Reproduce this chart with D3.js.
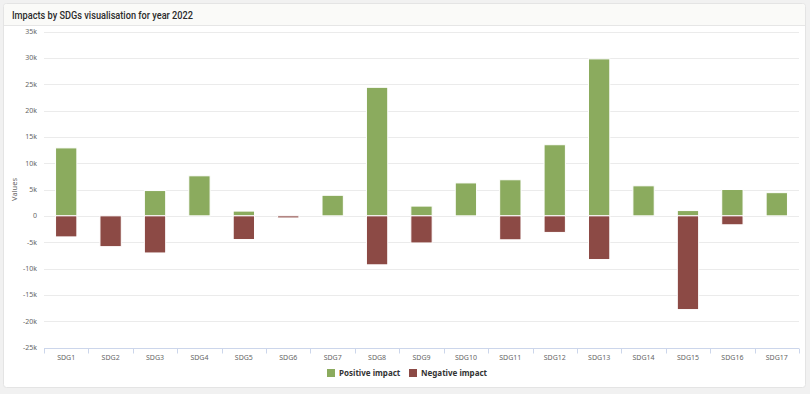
<!DOCTYPE html>
<html>
<head>
<meta charset="utf-8">
<script src="https://cdn.jsdelivr.net/npm/d3@7"></script>
<style>
    html, body { margin: 0; padding: 0; background: #f1f1f1; }
    svg { display: block; font-family: "Noto Sans", "DejaVu Sans", sans-serif; }
</style>
</head>
<body>
<div id="chart"></div>
<script>
const categories = ['SDG1', 'SDG2', 'SDG3', 'SDG4', 'SDG5', 'SDG6', 'SDG7', 'SDG8', 'SDG9',
    'SDG10', 'SDG11', 'SDG12', 'SDG13', 'SDG14', 'SDG15', 'SDG16', 'SDG17'];
const positiveImpact = [12900, 0, 4800, 7600, 900, 0, 3900, 24400, 1850, 6250, 6850, 13500, 29800, 5700, 1000, 5000, 4400];
const negativeImpact = [-4000, -5850, -7050, 0, -4500, -400, 0, -9300, -5150, 0, -4550, -3150, -8300, 0, -17800, -1700, 0];
const yTicks = [-25000, -20000, -15000, -10000, -5000, 0, 5000, 10000, 15000, 20000, 25000, 30000, 35000];
const seriesNames = ['Positive impact', 'Negative impact'];
const seriesColors = ['#8bab5e', '#8c4a45'];

const width = 810,
    height = 394,
    margin = { top: 31.5, right: 11, bottom: 46.5, left: 44 };

const svg = d3.select('#chart')
    .append('svg')
    .attr('width', width)
    .attr('height', height);

// card + header band
svg.append('rect')
    .attr('x', 3.5).attr('y', 3.5)
    .attr('width', 802).attr('height', 384)
    .attr('rx', 3)
    .attr('fill', '#fff')
    .attr('stroke', '#e4e4e4');
svg.append('path')
    .attr('d', 'M4,25.5 V7 Q4,4 7,4 H802 Q805,4 805,7 V25.5 Z')
    .attr('fill', '#fafaf8');
svg.append('line')
    .attr('x1', 4).attr('x2', 805)
    .attr('y1', 25.5).attr('y2', 25.5)
    .attr('stroke', '#e6e6e6');
svg.append('text')
    .attr('x', 12).attr('y', 19)
    .attr('font-size', 11)
    .attr('font-weight', 500)
    .attr('fill', '#2b2b2b')
    .attr('font-family', 'Roboto, sans-serif')
    .attr('textLength', 181)
    .attr('lengthAdjust', 'spacingAndGlyphs')
    .text('Impacts by SDGs visualisation for year 2022');

const x = d3.scaleBand()
    .domain(categories)
    .range([margin.left, width - margin.right])
    .paddingInner(0.52)
    .paddingOuter(0.26);

const y = d3.scaleLinear()
    .domain([-25000, 35000])
    .range([height - margin.bottom, margin.top]);

// grid
svg.append('g')
    .selectAll('line')
    .data(yTicks.filter(t => t !== -25000))
    .join('line')
    .attr('x1', margin.left).attr('x2', width - margin.right)
    .attr('y1', d => Math.round(y(d)) + 0.5).attr('y2', d => Math.round(y(d)) + 0.5)
    .attr('stroke', '#ebebeb');

// y labels
const fmt = d => d === 0 ? '0' : (d / 1000) + 'k';
svg.append('g')
    .selectAll('text')
    .data(yTicks)
    .join('text')
    .attr('x', 37)
    .attr('y', d => y(d) + 2.5)
    .attr('text-anchor', 'end')
    .attr('font-size', 7)
    .attr('fill', '#666')
    .text(fmt);

svg.append('text')
    .attr('transform', `translate(17,${y(5000)}) rotate(-90)`)
    .attr('text-anchor', 'middle')
    .attr('font-size', 7.5)
    .attr('fill', '#666')
    .text('Values');

// x axis
const xAxisY = Math.round(y(-25000)) + 0.5;
svg.append('line')
    .attr('x1', margin.left).attr('x2', width - margin.right)
    .attr('y1', xAxisY).attr('y2', xAxisY)
    .attr('stroke', '#ccd6eb');
const edges = d3.range(categories.length + 1).map(i => margin.left + i * (width - margin.left - margin.right) / categories.length);
svg.append('g')
    .selectAll('line')
    .data(edges)
    .join('line')
    .attr('x1', d => Math.round(d) + 0.5).attr('x2', d => Math.round(d) + 0.5)
    .attr('y1', xAxisY).attr('y2', xAxisY + 5)
    .attr('stroke', '#ccd6eb');
svg.append('g')
    .selectAll('text')
    .data(categories)
    .join('text')
    .attr('x', d => x(d) + x.bandwidth() / 2)
    .attr('y', xAxisY + 11)
    .attr('text-anchor', 'middle')
    .attr('font-size', 7)
    .attr('fill', '#666')
    .text(d => d);

// bars
const series = [positiveImpact, negativeImpact];
series.forEach((vals, si) => {
    svg.append('g')
        .selectAll('rect')
        .data(vals.map((v, i) => ({ cat: categories[i], v })).filter(d => d.v !== 0))
        .join('rect')
        .attr('x', d => x(d.cat))
        .attr('width', x.bandwidth())
        .attr('y', d => y(Math.max(0, d.v)))
        .attr('height', d => Math.abs(y(d.v) - y(0)))
        .attr('fill', seriesColors[si])
        .attr('stroke', '#fff')
        .attr('stroke-width', 1);
});

// legend
const legend = svg.append('g').attr('transform', 'translate(327,373)');
const items = [{ n: seriesNames[0], c: seriesColors[0], x: 0 }, { n: seriesNames[1], c: seriesColors[1], x: 82 }];
items.forEach(it => {
    legend.append('rect')
        .attr('x', it.x).attr('y', -4)
        .attr('width', 8).attr('height', 8)
        .attr('fill', it.c);
    legend.append('text')
        .attr('x', it.x + 12).attr('y', 3)
        .attr('font-size', 8)
        .attr('font-weight', 'bold')
        .attr('fill', '#333')
        .text(it.n);
});
</script>
</body>
</html>
